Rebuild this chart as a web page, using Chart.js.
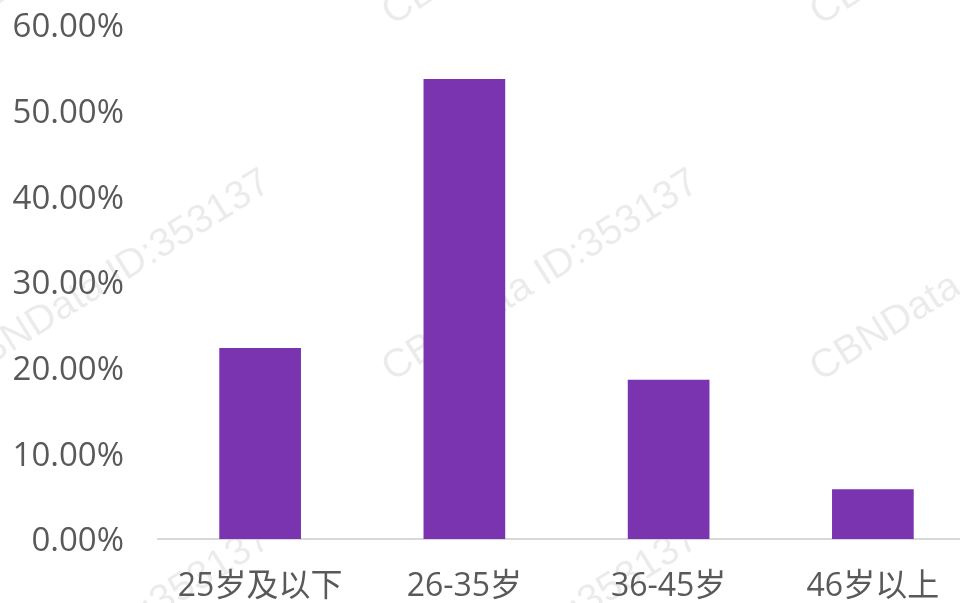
<!DOCTYPE html>
<html>
<head>
<meta charset="utf-8">
<script src="https://cdn.jsdelivr.net/npm/chart.js@4"></script>
<style>
  html, body { margin: 0; padding: 0; background: #ffffff; overflow: hidden; width: 960px; height: 603px; }
  #wrap { width: 975px; height: 603px; }
</style>
</head>
<body>
<div id="wrap"><canvas id="c" width="975" height="603"></canvas></div>
<script>
const categories = ["25岁及以下", "26-35岁", "36-45岁", "46岁以上"];
const shareValues = [22.3, 53.7, 18.6, 5.8];
const yMax = 60;
const yStep = 10;
const watermarkText = "CBNData ID:353137";

const watermarkPlugin = {
  id: 'watermark',
  beforeDraw(chart) {
    const ctx = chart.ctx;
    ctx.save();
    ctx.font = '40px "Liberation Sans", Arial, sans-serif';
    ctx.fillStyle = 'rgba(0,0,0,0.08)';
    ctx.textBaseline = 'alphabetic';
    const starts = [];
    for (let r = -1; r <= 1; r++) {
      for (let k = -1; k <= 2; k++) {
        starts.push([392 + 428 * k, 382 + 356 * r]);
      }
    }
    starts.forEach(([x, y]) => {
      ctx.save();
      ctx.translate(x, y);
      ctx.rotate(-32 * Math.PI / 180);
      ctx.fillText(watermarkText, 0, 0);
      ctx.restore();
    });
    ctx.restore();
  }
};

const fontFamily = '"Open Sans", "Noto Sans CJK SC", sans-serif';

new Chart(document.getElementById('c'), {
  type: 'bar',
  data: {
    labels: categories,
    datasets: [{
      data: shareValues,
      backgroundColor: '#7B34B0',
      borderWidth: 0,
      barPercentage: 0.4,
      categoryPercentage: 1.0
    }]
  },
  options: {
    responsive: false,
    animation: false,
    devicePixelRatio: 1,
    layout: { padding: { top: 0, right: 0, bottom: 0, left: 0 } },
    plugins: {
      legend: { display: false },
      tooltip: { enabled: false }
    },
    scales: {
      x: {
        grid: { display: false, drawTicks: false },
        border: { display: true, color: '#d9d9d9', width: 2 },
        ticks: {
          color: '#595959',
          font: { family: fontFamily, size: 32 },
          padding: 29,
          maxRotation: 0,
          autoSkip: false
        },
        afterFit(scale) { scale.height = 64; }
      },
      y: {
        min: 0,
        max: yMax,
        grid: { display: false, drawTicks: false },
        border: { display: false },
        ticks: {
          stepSize: yStep,
          color: '#595959',
          font: { family: fontFamily, size: 33 },
          padding: 34,
          labelOffset: 3,
          callback: (v) => v.toFixed(2) + '%'
        },
        afterFit(scale) {
          scale.width = 158;
          scale.paddingTop = 25;
          scale.paddingBottom = 0;
        }
      }
    }
  },
  plugins: [watermarkPlugin]
});
</script>
</body>
</html>
